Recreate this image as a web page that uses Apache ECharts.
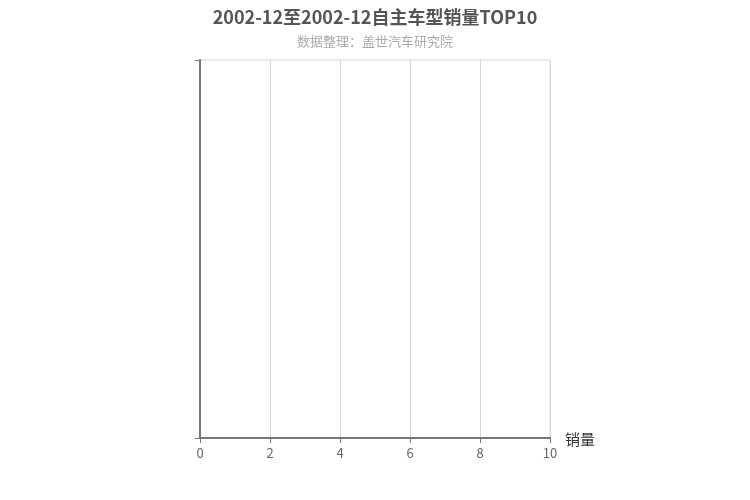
<!DOCTYPE html>
<html>
<head>
<meta charset="utf-8">
<script src="https://cdn.jsdelivr.net/npm/echarts@6/dist/echarts.min.js"></script>
<style>
  html, body { margin: 0; padding: 0; background: #fff; }
  #main { width: 750px; height: 500px; }
</style>
</head>
<body>
<div id="main"></div>
<script>
// 标题
const titleText = '2002-12至2002-12自主车型销量TOP10'
const subText = '数据整理：盖世汽车研究院'
// 车型和销量（本期无数据，只留一个空类目撑起坐标轴）
const models = ['']
const sales = []

const chart = echarts.init(document.getElementById('main'))
chart.setOption({
    backgroundColor: '#fff',
    title: {
        text: titleText,
        subtext: subText,
        left: 'center',
        top: 3,
        itemGap: 9,
        textStyle: {
            fontFamily: 'Noto Sans CJK SC',
            fontSize: 18,
            fontWeight: 'bold',
            color: '#555'
        },
        subtextStyle: {
            fontFamily: 'Noto Sans CJK SC',
            fontSize: 13,
            color: '#aaa'
        }
    },
    grid: {
        top: 60,
        right: 200,
        bottom: 62,
        left: 200,
        show: true,
        borderColor: '#d6d6d6',
        borderWidth: 1
    },
    xAxis: {
        type: 'value',
        name: '销量',
        min: 0,
        max: 10,
        interval: 2,
        nameTextStyle: {
            fontFamily: 'Noto Sans CJK SC',
            fontSize: 15,
            color: '#333',
            verticalAlign: 'top',
            padding: [-6, 0, 0, 0]
        },
        nameGap: 15,
        axisLine: { show: true, lineStyle: { color: '#777', width: 2 } },
        axisTick: { show: true, lineStyle: { color: '#777' } },
        axisLabel: { color: '#666', fontSize: 13, margin: 9, fontFamily: 'Noto Sans CJK SC' },
        splitLine: { show: true, lineStyle: { color: '#d6d6d6' } }
    },
    yAxis: {
        type: 'category',
        data: models,
        axisLine: { show: true, lineStyle: { color: '#777', width: 2 } },
        axisTick: { show: true, lineStyle: { color: '#777' } },
        axisLabel: { color: '#666', fontSize: 13 },
        splitLine: { show: false }
    },
    series: [{
        type: 'bar',
        data: sales
    }]
})
</script>
</body>
</html>
